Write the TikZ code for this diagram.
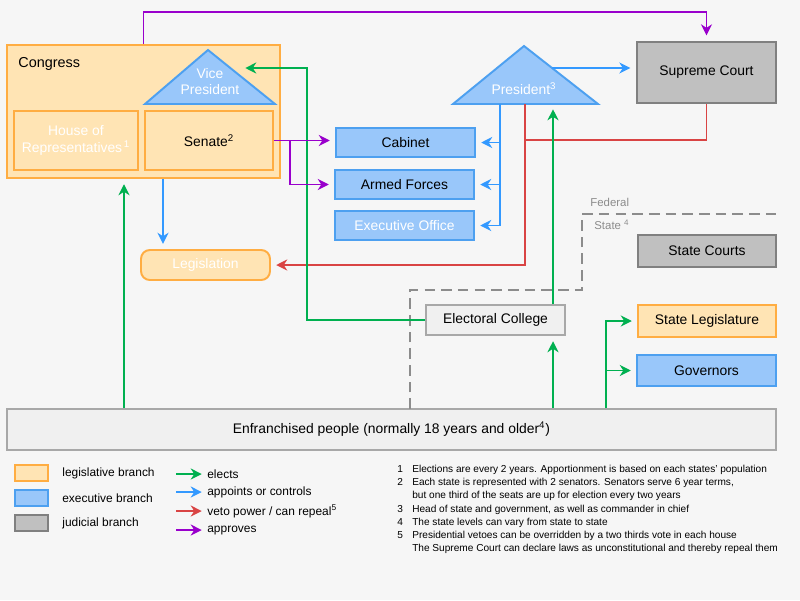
\documentclass[tikz,border=0pt]{standalone}
\usepackage{fontspec}
\setmainfont{Liberation Sans}
\usepackage{xcolor}
\usepackage{tikz}
\usetikzlibrary{calc,arrows.meta}
\definecolor{legFill}{HTML}{FFE4B4}
\definecolor{legLine}{HTML}{FFAD42}
\definecolor{exeFill}{HTML}{99C7FA}
\definecolor{exeLine}{HTML}{4DA0F0}
\definecolor{judFill}{HTML}{C0C0C0}
\definecolor{judLine}{HTML}{808080}
\definecolor{popFill}{HTML}{F0F0F0}
\definecolor{popLine}{HTML}{A8A8A8}
\definecolor{electGreen}{HTML}{00B050}
\definecolor{appointBlue}{HTML}{3399FF}
\definecolor{vetoRed}{HTML}{D94444}
\definecolor{approvePurple}{HTML}{9900CC}
\definecolor{bgGrey}{HTML}{F6F6F6}
\definecolor{levelGrey}{HTML}{8C8C8C}
\tikzset{
  govbox/.style 2 args={rectangle, draw=#1, fill=#2, line width=1.1pt, align=center, font=\fontsize{7.9}{9.5}\selectfont, inner sep=1pt},
  legbox/.style={govbox={legLine}{legFill}},
  exebox/.style={govbox={exeLine}{exeFill}},
  judbox/.style={govbox={judLine}{judFill}},
  popbox/.style={govbox={popLine}{popFill}},
  exetri/.style={draw=exeLine, fill=exeFill, line width=1.1pt},
  govtext/.style={align=center, font=\fontsize{7.9}{9.5}\selectfont, inner sep=0pt},
  leveltext/.style={font=\fontsize{6.5}{8}\selectfont, text=levelGrey, inner sep=0pt},
  keytext/.style={font=\fontsize{6.8}{8}\selectfont, anchor=west, inner sep=0pt},
  notetext/.style={font=\fontsize{5.75}{7.5}\selectfont, inner sep=0pt},
  levelline/.style={draw=levelGrey, line width=1.1pt, dash pattern=on 6pt off 3.5pt},
  % --- connector styles ---
  govline/.style={line width=1.1pt, draw=#1},
  govarrow/.style={-{Stealth[length=2.2mm,width=2.2mm,inset=0.7mm]}, line width=1.1pt, draw=#1, shorten >=3pt},
  electarrow/.style={govarrow=electGreen},
  appointarrow/.style={govarrow=appointBlue},
  vetoarrow/.style={govarrow=vetoRed},
  approvearrow/.style={govarrow=approvePurple},
}

\begin{document}
\begin{tikzpicture}[x=0.02cm,y=-0.02cm]
  \fill[bgGrey] (0,0) rectangle (800,600);

  \node[legbox, minimum width=5.46cm, minimum height=2.66cm] (congress) at (143.5,111.5) {};
  \node[govtext, anchor=west, font=\fontsize{8.2}{10}\selectfont] (congresslbl) at (18,64) {Congress};
  \draw[exetri] (145,104) -- (208,50) -- (275,104) -- cycle;
  \node[govtext, text=white] (vp) at (210,81.5) {Vice\\President};
  \node[legbox, minimum width=2.48cm, minimum height=1.18cm, text=white] (house) at (76,140.5) {House of\\Representatives\textsuperscript{\,1}};
  \node[legbox, minimum width=2.56cm, minimum height=1.18cm] (senate) at (209,140.5) {Senate\textsuperscript{2}};

  \node[judbox, line width=1.6pt, minimum width=2.78cm, minimum height=1.22cm] (supreme) at (706.5,72.5) {Supreme Court};
  \draw[exetri] (453,104) -- (524,46) -- (598,104) -- cycle;
  \node[govtext, text=white] (president) at (524,88.5) {President\textsuperscript{3}};

  \node[exebox, minimum width=2.78cm, minimum height=0.58cm] (cabinet) at (405.5,142.5) {Cabinet};
  \node[exebox, minimum width=2.78cm, minimum height=0.58cm] (armed) at (404.5,184.5) {Armed Forces};
  \node[exebox, minimum width=2.78cm, minimum height=0.58cm, text=white] (execoffice) at (404.5,225.5) {Executive Office};
  \node[legbox, rounded corners=5pt, minimum width=2.58cm, minimum height=0.6cm, text=white] (legislation) at (205.5,265) {Legislation};
  \node[popbox, minimum width=2.78cm, minimum height=0.6cm] (electoral) at (495.5,320) {Electoral College};

  \node[judbox, minimum width=2.76cm, minimum height=0.64cm] (statecourts) at (707,251) {State Courts};
  \node[legbox, minimum width=2.76cm, minimum height=0.64cm] (statelegis) at (707,321) {State Legislature};
  \node[exebox, minimum width=2.78cm, minimum height=0.62cm] (governors) at (706.5,370.5) {Governors};
  \node[popbox, minimum width=15.38cm, minimum height=0.82cm] (people) at (391.5,429.5) {Enfranchised people (normally 18 years and older\textsuperscript{4})};

  \draw[levelline] (410,409) |- (582,290) |- (776,214);
  \node[leveltext, anchor=west] (federal) at (590,202) {Federal};
  \node[leveltext, anchor=west] (statelvl) at (594,225) {State \textsuperscript{4}};

  \coordinate (vpin) at (240,68);
  \coordinate (vpturn) at (307,68);
  \coordinate (presout) at (552,68);
  \coordinate (presbase) at (500,104);
  \coordinate (vetobase) at (525,104);
  \coordinate (vetojoin) at (525,140);
  \coordinate (congelx) at (124,0);
  \coordinate (lawx) at (163,0);
  \coordinate (electx) at (553,0);
  \coordinate (stateelx) at (606,0);

  \draw[approvearrow] (congress.north) -- ++(0,-32) -| (supreme.north);
  \draw[appointarrow] (presout) -- (presout -| supreme.west);
  \draw[appointarrow] (presbase) |- (cabinet.east);
  \draw[appointarrow] (presbase) |- (armed.east);
  \draw[appointarrow] (presbase) |- (execoffice.east);
  \draw[appointarrow] (congress.south -| lawx) -- (legislation.north -| lawx);
  \draw[govline=vetoRed] (supreme.south) |- (vetojoin);
  \draw[vetoarrow] (vetobase) |- (legislation.east);
  \draw[electarrow] (people.north -| congelx) -- (congress.south -| congelx);
  \draw[electarrow] (people.north -| electx) -- (electoral.south -| electx);
  \draw[electarrow] (electoral.north -| electx) -- (electx |- presbase);
  \draw[electarrow] (electoral.west) -| (vpturn) -- (vpin);
  \draw[electarrow] (people.north -| stateelx) |- (statelegis.west);
  \draw[electarrow] (people.north -| stateelx) |- (governors.west);
  \draw[approvearrow] (senate.east) -- (senate.east -| cabinet.west);
  \draw[approvearrow] (senate.east) -- ++(16,0) |- (armed.west);

  \node[legbox, minimum width=0.66cm, minimum height=0.32cm] (keyleg) at (31.5,473) {};
  \node[exebox, minimum width=0.66cm, minimum height=0.32cm] (keyexe) at (31.5,498) {};
  \node[judbox, minimum width=0.66cm, minimum height=0.32cm] (keyjud) at (31.5,523) {};
  \node[keytext] (keylegtxt) at (62,473.5) {legislative branch};
  \node[keytext] (keyexetxt) at (62,498.5) {executive branch};
  \node[keytext] (keyjudtxt) at (62,523.5) {judicial branch};

  \node[keytext] (keyelect) at (207,474.5) {elects};
  \node[keytext] (keyappoint) at (207,492.5) {appoints or controls};
  \node[keytext] (keyveto) at (207,511.5) {veto power / can repeal\textsuperscript{5}};
  \node[keytext] (keyapprove) at (207,530.5) {approves};
  \coordinate (keyelectfrom) at (176,474);
  \coordinate (keyappointfrom) at (176,492);
  \coordinate (keyvetofrom) at (176,511);
  \coordinate (keyapprovefrom) at (176,530);
  \draw[electarrow] (keyelectfrom) -- (keyelectfrom -| keyelect.west);
  \draw[appointarrow] (keyappointfrom) -- (keyappointfrom -| keyappoint.west);
  \draw[vetoarrow] (keyvetofrom) -- (keyvetofrom -| keyveto.west);
  \draw[approvearrow] (keyapprovefrom) -- (keyapprovefrom -| keyapprove.west);

  \node[notetext, anchor=north west] (notes) at (397,463) {\renewcommand\arraystretch{1}\begin{tabular}{@{}p{8.5pt}@{}l@{}}
    1 & Elections are every 2 years. Apportionment is based on each states' population\\
    2 & Each state is represented with 2 senators. Senators serve 6 year terms,\\
      & but one third of the seats are up for election every two years\\
    3 & Head of state and government, as well as commander in chief\\
    4 & The state levels can vary from state to state\\
    5 & Presidential vetoes can be overridden by a two thirds vote in each house\\
      & The Supreme Court can declare laws as unconstitutional and thereby repeal them
  \end{tabular}};
\end{tikzpicture}
\end{document}
